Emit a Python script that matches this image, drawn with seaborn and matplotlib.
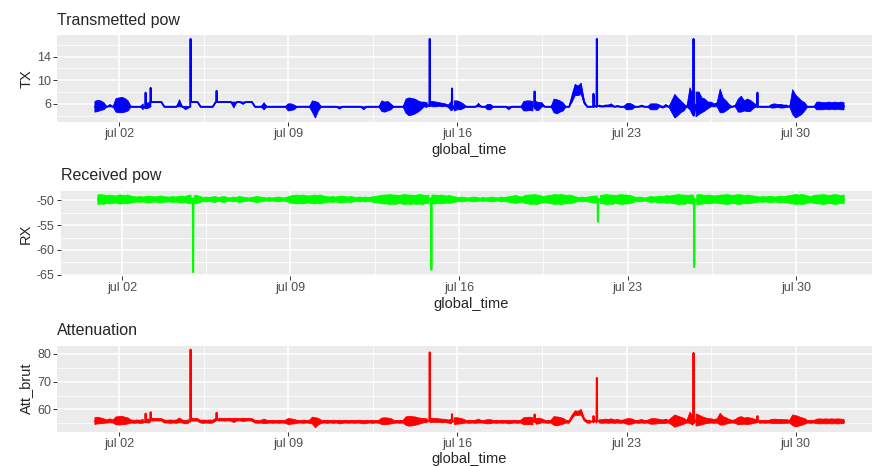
import pandas as pd
import matplotlib
matplotlib.use("Agg")
import matplotlib.pyplot as plt
import matplotlib.dates as mdates
from matplotlib.ticker import FuncFormatter
import seaborn as sns

# one stamp every 3 hours, 1 jul -> 1 aug ; for each stamp the lowest and
# highest reading seen in that slot (the raw signal is very dense)
global_time = pd.date_range("2019-07-01", periods=249, freq="3h")

tx_lo = [
    4.6, 4.7, 4.9, 5.0, 5.5, 5.5, 5.5, 4.6,   # jul 01
    4.5, 4.5, 4.6, 4.8, 5.5, 5.5, 5.5, 5.5,   # jul 02
    5.0, 5.2, 5.3, 6.3, 6.3, 6.3, 6.3, 5.5,   # jul 03
    5.5, 5.5, 5.5, 5.5, 5.5, 5.5, 5.0, 5.3,   # jul 04
    6.3, 6.3, 6.3, 5.5, 5.5, 5.5, 5.5, 5.5,   # jul 05
    6.3, 6.3, 6.3, 6.3, 6.3, 6.3, 5.3, 6.3,   # jul 06
    6.3, 5.9, 6.3, 6.3, 6.3, 5.5, 5.5, 5.5,   # jul 07
    5.0, 5.5, 5.5, 5.5, 5.5, 5.5, 5.5, 5.5,   # jul 08
    4.8, 4.9, 5.0, 5.5, 5.5, 5.5, 5.5, 5.5,   # jul 09
    4.6, 3.6, 4.8, 5.5, 5.5, 5.5, 5.5, 5.5,   # jul 10
    5.5, 5.1, 5.5, 5.5, 5.5, 5.5, 5.5, 5.5,   # jul 11
    5.5, 5.0, 5.5, 5.5, 5.5, 5.5, 5.5, 4.7,   # jul 12
    4.6, 4.8, 5.0, 5.5, 5.5, 5.5, 5.5, 4.4,   # jul 13
    4.0, 4.1, 4.3, 4.6, 5.0, 5.5, 5.4, 5.6,   # jul 14
    5.5, 5.5, 5.6, 5.5, 5.6, 5.4, 4.8, 4.8,   # jul 15
    5.0, 5.0, 5.2, 5.5, 5.5, 5.5, 5.5, 5.5,   # jul 16
    5.5, 5.5, 5.0, 5.0, 5.5, 5.5, 5.5, 5.5,   # jul 17
    5.5, 5.0, 5.5, 5.5, 5.5, 5.5, 4.8, 4.8,   # jul 18
    4.9, 4.8, 4.9, 4.9, 5.5, 5.5, 5.5, 5.5,   # jul 19
    4.5, 4.3, 4.6, 4.8, 5.5, 5.5, 6.3, 7.4,   # jul 20
    7.4, 7.6, 6.0, 5.5, 5.5, 5.5, 5.5, 5.5,   # jul 21
    5.5, 5.5, 5.5, 5.5, 5.5, 5.5, 5.5, 5.5,   # jul 22
    5.0, 5.0, 5.1, 5.5, 5.5, 5.5, 5.5, 5.5,   # jul 23
    5.0, 5.0, 5.0, 5.5, 5.3, 5.5, 5.5, 4.5,   # jul 24
    3.6, 4.0, 4.5, 4.8, 5.5, 5.0, 4.0, 3.8,   # jul 25
    4.2, 4.5, 4.8, 5.2, 5.5, 5.5, 5.5, 4.5,   # jul 26
    4.5, 4.8, 5.2, 5.5, 5.5, 4.6, 4.6, 4.8,   # jul 27
    4.7, 4.7, 5.2, 5.5, 5.5, 5.5, 5.5, 5.5,   # jul 28
    5.3, 5.3, 5.4, 5.3, 5.3, 5.4, 5.5, 4.2,   # jul 29
    3.6, 3.9, 4.2, 4.8, 5.5, 5.5, 5.5, 5.0,   # jul 30
    5.0, 5.0, 5.1, 5.0, 5.1, 5.0, 5.1, 5.0,   # jul 31
    5.0,
]
tx_hi = [
    6.4, 6.6, 6.5, 6.2, 5.5, 5.9, 5.5, 6.9,
    7.0, 7.1, 6.9, 6.5, 5.5, 5.5, 5.5, 5.5,
    6.0, 6.0, 6.3, 6.3, 6.3, 6.3, 6.3, 5.5,
    5.5, 5.5, 5.5, 5.5, 6.7, 5.5, 5.6, 5.5,
    6.3, 6.3, 6.3, 5.5, 5.5, 5.5, 5.5, 5.5,
    6.3, 6.3, 6.3, 6.3, 6.3, 6.3, 6.3, 6.3,
    6.3, 6.3, 6.3, 6.3, 6.3, 5.5, 5.5, 5.5,
    6.2, 5.5, 5.5, 5.5, 5.5, 5.5, 5.5, 5.5,
    6.0, 6.0, 5.8, 5.5, 5.5, 5.5, 5.5, 5.5,
    6.5, 6.4, 6.2, 5.5, 5.5, 5.5, 5.5, 5.5,
    5.5, 5.5, 5.5, 5.5, 5.5, 5.5, 5.5, 5.5,
    5.5, 5.5, 5.5, 5.5, 5.5, 5.5, 5.5, 6.5,
    6.3, 6.4, 6.0, 5.5, 5.5, 5.5, 5.5, 6.8,
    7.0, 6.9, 6.8, 6.5, 6.3, 6.3, 6.2, 6.4,
    6.4, 6.3, 6.2, 6.1, 6.0, 5.8, 6.4, 6.5,
    6.5, 6.3, 6.0, 5.5, 5.5, 5.5, 5.5, 6.1,
    5.5, 5.5, 5.9, 5.9, 5.5, 5.5, 5.5, 5.5,
    5.5, 5.5, 5.5, 5.5, 5.5, 5.5, 6.4, 6.5,
    6.5, 6.4, 6.4, 6.2, 6.2, 5.5, 5.5, 5.5,
    6.8, 6.7, 6.5, 6.2, 5.5, 5.5, 7.6, 9.3,
    9.0, 9.5, 6.5, 5.5, 5.5, 5.5, 5.8, 5.8,
    5.6, 5.8, 5.8, 6.0, 5.5, 5.7, 5.5, 5.5,
    6.0, 6.1, 5.9, 5.5, 5.5, 5.8, 5.5, 5.5,
    6.0, 6.0, 6.0, 5.8, 5.5, 5.9, 5.5, 6.5,
    7.6, 7.0, 6.5, 6.0, 5.5, 8.7, 7.5, 8.0,
    8.0, 7.0, 6.8, 6.3, 6.3, 6.0, 6.2, 8.5,
    7.0, 6.5, 5.9, 5.5, 5.8, 6.8, 7.3, 6.5,
    6.8, 6.6, 6.2, 5.8, 5.5, 5.5, 5.5, 5.5,
    5.9, 6.0, 5.9, 5.9, 5.8, 5.8, 5.5, 8.4,
    7.5, 7.0, 6.5, 6.2, 5.5, 5.5, 5.5, 6.3,
    6.3, 6.2, 6.2, 6.3, 6.2, 6.3, 6.2, 6.3,
    6.2,
]
# short spikes, read between the 3 h stamps
tx_spike_time = [
    "2019-07-03 02:00", "2019-07-03 02:20", "2019-07-03 02:40",
    "2019-07-03 07:00", "2019-07-03 07:20", "2019-07-03 07:40",
    "2019-07-04 22:40", "2019-07-04 23:00", "2019-07-04 23:20",
    "2019-07-06 00:30", "2019-07-06 00:50", "2019-07-06 01:10",
    "2019-07-14 20:10", "2019-07-14 20:30", "2019-07-14 20:50",
    "2019-07-15 18:20", "2019-07-15 18:40", "2019-07-15 19:00",
    "2019-07-19 04:20", "2019-07-19 04:40", "2019-07-19 05:00",
    "2019-07-21 14:50", "2019-07-21 15:10", "2019-07-21 15:30",
    "2019-07-21 18:10", "2019-07-21 18:30", "2019-07-21 18:50",
    "2019-07-25 18:10", "2019-07-25 18:30", "2019-07-25 18:50",
    "2019-07-28 09:40", "2019-07-28 10:00", "2019-07-28 10:20",
]
tx_spike = [
    5.3, 7.9, 5.3,
    5.5, 8.7, 6.3,
    5.5, 17.0, 6.3,
    6.3, 8.2, 6.3,
    5.6, 17.0, 6.3,
    5.5, 8.6, 5.0,
    5.5, 8.1, 5.2,
    5.5, 7.7, 5.5,
    5.5, 17.0, 5.6,
    5.5, 17.0, 4.0,
    5.5, 7.9, 5.5,
]

rx_lo = [
    -50.8, -50.7, -50.8, -50.6, -50.7, -50.6, -50.5, -50.7,
    -50.7, -50.6, -50.7, -50.5, -50.4, -50.3, -50.4, -50.3,
    -50.4, -50.5, -50.4, -50.3, -50.4, -50.5, -50.4, -50.3,
    -50.3, -50.4, -50.3, -50.4, -50.5, -50.4, -50.6, -50.7,
    -50.6, -50.6, -50.4, -50.2, -50.3, -50.2, -50.3, -50.4,
    -50.2, -50.3, -50.4, -50.2, -50.1, -50.3, -50.2, -50.4,
    -50.3, -50.2, -50.1, -50.2, -50.3, -50.4, -50.3, -50.2,
    -50.1, -50.2, -50.1, -50.2, -50.3, -50.2, -50.1, -50.3,
    -50.5, -50.6, -50.7, -50.6, -50.7, -50.6, -50.5, -50.6,
    -50.7, -50.6, -50.7, -50.5, -50.4, -50.3, -50.4, -50.3,
    -50.4, -50.5, -50.4, -50.3, -50.4, -50.3, -50.2, -50.3,
    -50.2, -50.3, -50.2, -50.3, -50.4, -50.5, -50.6, -50.7,
    -50.7, -50.8, -50.7, -50.8, -50.6, -50.7, -50.8, -50.7,
    -50.8, -50.7, -50.8, -50.7, -50.8, -50.6, -50.7, -50.7,
    -50.7, -50.6, -50.7, -50.6, -50.5, -50.6, -50.4, -50.3,
    -50.2, -50.3, -50.2, -50.1, -50.2, -50.3, -50.2, -50.1,
    -50.2, -50.1, -50.2, -50.3, -50.2, -50.1, -50.3, -50.2,
    -50.3, -50.4, -50.5, -50.6, -50.4, -50.3, -50.6, -50.7,
    -50.8, -50.7, -50.8, -50.6, -50.4, -50.5, -50.6, -50.7,
    -50.8, -50.7, -50.8, -50.7, -50.6, -50.7, -50.5, -50.3,
    -50.2, -50.3, -50.2, -50.3, -50.4, -50.5, -50.5, -50.6,
    -50.7, -50.8, -50.7, -50.8, -50.6, -50.7, -50.8, -50.7,
    -50.7, -50.6, -50.4, -50.2, -50.3, -50.2, -50.1, -50.3,
    -50.4, -50.3, -50.4, -50.5, -50.4, -50.6, -50.5, -50.6,
    -50.7, -50.8, -50.7, -50.8, -50.6, -50.7, -50.7, -50.8,
    -50.8, -50.7, -50.6, -50.7, -50.6, -50.5, -50.6, -50.7,
    -50.7, -50.8, -50.7, -50.6, -50.7, -50.8, -50.7, -50.6,
    -50.7, -50.6, -50.5, -50.4, -50.3, -50.4, -50.3, -50.4,
    -50.4, -50.3, -50.4, -50.5, -50.4, -50.5, -50.6, -50.7,
    -50.8, -50.7, -50.8, -50.7, -50.5, -50.4, -50.6, -50.7,
    -50.7, -50.8, -50.7, -50.6, -50.7, -50.8, -50.7, -50.6,
    -50.7,
]
rx_hi = [
    -48.9, -48.8, -48.9, -49.0, -48.9, -49.0, -49.1, -48.9,
    -48.9, -49.0, -48.9, -49.1, -49.2, -49.3, -49.2, -49.3,
    -49.2, -49.1, -49.2, -49.3, -49.2, -49.1, -49.2, -49.3,
    -49.3, -49.2, -49.3, -49.2, -49.1, -49.2, -49.0, -48.9,
    -49.0, -49.0, -49.2, -49.4, -49.3, -49.4, -49.3, -49.2,
    -49.4, -49.3, -49.2, -49.4, -49.5, -49.3, -49.4, -49.2,
    -49.3, -49.4, -49.5, -49.4, -49.3, -49.2, -49.3, -49.4,
    -49.5, -49.4, -49.5, -49.4, -49.3, -49.4, -49.5, -49.3,
    -49.1, -49.0, -48.9, -49.0, -48.9, -49.0, -49.1, -49.0,
    -48.9, -49.0, -48.9, -49.1, -49.2, -49.3, -49.2, -49.3,
    -49.2, -49.1, -49.2, -49.3, -49.2, -49.3, -49.4, -49.3,
    -49.4, -49.3, -49.4, -49.3, -49.2, -49.1, -49.0, -48.9,
    -48.9, -48.8, -48.9, -48.9, -49.0, -48.9, -48.8, -48.9,
    -48.9, -49.0, -48.9, -48.8, -48.9, -49.0, -48.9, -48.9,
    -48.9, -49.0, -48.9, -49.0, -49.1, -49.0, -49.2, -49.3,
    -49.4, -49.3, -49.4, -49.5, -49.4, -49.3, -49.4, -49.5,
    -49.4, -49.5, -49.4, -49.3, -49.4, -49.5, -49.3, -49.4,
    -49.3, -49.2, -49.1, -49.0, -49.2, -49.3, -49.0, -48.9,
    -48.9, -48.8, -48.9, -49.0, -49.2, -49.1, -49.0, -48.9,
    -48.8, -48.9, -48.8, -48.9, -49.0, -48.9, -49.1, -49.3,
    -49.4, -49.3, -49.4, -49.3, -49.2, -49.1, -49.1, -49.0,
    -48.9, -48.8, -48.9, -48.9, -49.0, -48.9, -48.8, -48.9,
    -48.9, -49.0, -49.2, -49.4, -49.3, -49.4, -49.5, -49.3,
    -49.2, -49.3, -49.2, -49.1, -49.2, -49.0, -49.1, -49.0,
    -48.9, -48.8, -48.9, -48.9, -49.0, -48.9, -48.9, -48.9,
    -48.8, -48.9, -49.0, -48.9, -49.0, -49.1, -49.0, -48.9,
    -48.9, -48.8, -48.9, -49.0, -48.9, -48.8, -48.9, -49.0,
    -48.9, -49.0, -49.1, -49.2, -49.3, -49.2, -49.3, -49.2,
    -49.2, -49.3, -49.2, -49.1, -49.2, -49.1, -49.0, -48.9,
    -48.8, -48.9, -48.8, -48.9, -49.1, -49.2, -49.0, -48.9,
    -48.9, -48.8, -48.9, -49.0, -48.9, -48.8, -48.9, -49.0,
    -48.9,
]
rx_spike_time = [
    "2019-07-04 22:40", "2019-07-04 23:00", "2019-07-04 23:20",
    "2019-07-14 20:10", "2019-07-14 20:30", "2019-07-14 20:50",
    "2019-07-21 18:10", "2019-07-21 18:30", "2019-07-21 18:50",
    "2019-07-25 18:10", "2019-07-25 18:30", "2019-07-25 18:50",
]
rx_spike = [
    -49.6, -64.5, -49.8,
    -49.5, -64.0, -49.7,
    -49.6, -54.3, -49.8,
    -49.5, -63.5, -49.9,
]

att_lo = [
    54.6, 54.8, 54.9, 55.0, 55.1, 55.2, 55.1, 54.5,
    54.4, 54.5, 54.6, 54.8, 55.1, 55.0, 55.1, 55.0,
    55.0, 55.2, 55.1, 55.8, 55.9, 55.8, 55.9, 55.1,
    55.1, 55.0, 55.1, 55.0, 55.2, 55.1, 54.8, 55.0,
    55.8, 55.8, 55.8, 55.1, 55.0, 55.1, 55.0, 55.1,
    55.8, 55.8, 55.9, 55.8, 55.9, 55.8, 55.3, 55.8,
    55.9, 55.7, 55.8, 55.9, 55.8, 55.1, 55.0, 55.1,
    54.9, 55.0, 55.1, 55.0, 55.1, 55.0, 55.1, 55.0,
    54.6, 54.7, 54.8, 55.0, 55.1, 55.0, 55.1, 55.0,
    54.8, 53.4, 54.4, 55.0, 55.1, 55.0, 55.1, 55.0,
    55.1, 54.8, 55.0, 55.1, 55.0, 55.1, 55.0, 55.1,
    55.0, 54.8, 55.0, 55.1, 55.0, 55.1, 55.0, 54.6,
    54.5, 54.6, 54.8, 55.0, 55.1, 55.0, 55.1, 54.3,
    54.0, 54.1, 54.3, 54.6, 54.9, 55.2, 55.2, 55.2,
    55.4, 55.3, 55.4, 55.2, 55.3, 55.1, 54.8, 54.6,
    54.7, 54.8, 55.0, 55.1, 55.0, 55.1, 55.0, 55.1,
    55.1, 55.0, 54.8, 54.9, 55.1, 55.0, 55.1, 55.0,
    55.1, 54.8, 55.0, 55.1, 55.0, 55.1, 54.5, 54.6,
    54.6, 54.5, 54.7, 54.8, 55.2, 55.1, 55.0, 55.1,
    54.3, 54.1, 54.4, 54.7, 55.1, 55.0, 56.8, 57.9,
    57.8, 58.0, 55.9, 55.1, 55.0, 55.2, 55.1, 55.1,
    55.0, 55.1, 55.0, 55.1, 55.0, 55.1, 55.0, 55.1,
    54.7, 54.6, 54.8, 55.1, 55.0, 55.1, 55.0, 55.1,
    54.7, 54.7, 54.8, 55.0, 54.9, 55.0, 55.1, 54.4,
    53.6, 54.0, 54.3, 54.7, 55.1, 55.0, 54.3, 54.0,
    54.2, 54.5, 54.8, 55.0, 55.1, 55.0, 55.1, 54.4,
    54.4, 54.7, 55.0, 55.1, 55.0, 54.5, 54.6, 54.7,
    54.6, 54.7, 55.0, 55.1, 55.0, 55.1, 55.0, 55.1,
    55.0, 54.9, 55.0, 54.9, 55.0, 55.0, 55.1, 54.2,
    53.7, 54.0, 54.3, 54.7, 55.1, 55.0, 55.1, 54.9,
    54.8, 54.9, 54.8, 54.9, 54.8, 54.9, 54.8, 54.9,
    54.9,
]
att_hi = [
    57.0, 57.2, 56.9, 56.6, 56.2, 56.6, 56.2, 57.3,
    57.4, 57.5, 57.2, 56.9, 56.2, 56.1, 56.2, 56.1,
    56.4, 56.4, 56.6, 56.8, 56.7, 56.8, 56.7, 56.2,
    56.1, 56.2, 56.1, 56.2, 56.9, 56.2, 56.0, 56.3,
    56.8, 56.8, 56.7, 56.1, 56.2, 56.1, 56.2, 56.1,
    56.8, 56.8, 56.7, 56.8, 56.7, 56.8, 56.7, 56.8,
    56.7, 56.8, 56.7, 56.8, 56.7, 56.1, 56.0, 56.1,
    56.5, 56.1, 56.0, 56.1, 56.0, 56.1, 56.0, 56.1,
    56.7, 56.6, 56.4, 56.1, 56.0, 56.1, 56.0, 56.1,
    57.2, 57.0, 56.8, 56.1, 56.0, 56.1, 56.0, 56.1,
    56.0, 56.1, 56.0, 56.1, 56.0, 56.1, 56.0, 56.1,
    56.1, 56.0, 56.1, 56.0, 56.1, 56.0, 56.1, 56.9,
    57.0, 56.9, 56.7, 56.1, 56.0, 56.1, 56.0, 57.3,
    57.5, 57.4, 57.3, 57.0, 56.8, 56.7, 56.6, 56.8,
    56.8, 56.7, 56.6, 56.5, 56.4, 56.2, 56.4, 57.0,
    57.0, 56.8, 56.5, 56.0, 56.1, 56.0, 56.1, 56.5,
    56.0, 56.1, 56.3, 56.3, 56.0, 56.1, 56.0, 56.1,
    56.0, 56.1, 56.0, 56.1, 56.0, 56.1, 57.0, 57.1,
    57.2, 57.0, 56.7, 56.8, 56.6, 56.1, 56.0, 56.1,
    57.4, 57.3, 57.1, 56.8, 56.1, 56.0, 58.0, 59.5,
    59.3, 60.0, 56.8, 56.0, 56.1, 56.2, 56.3, 56.3,
    56.3, 56.5, 56.4, 56.6, 56.2, 56.4, 56.1, 56.2,
    56.6, 56.7, 56.5, 56.0, 56.1, 56.4, 56.0, 56.1,
    56.6, 56.7, 56.6, 56.4, 56.2, 56.5, 56.1, 57.1,
    58.0, 57.6, 57.2, 56.8, 56.1, 59.0, 57.5, 58.3,
    58.0, 57.4, 57.0, 56.7, 56.6, 56.4, 56.6, 58.6,
    57.4, 57.0, 56.4, 56.1, 56.3, 57.1, 57.4, 56.9,
    57.1, 56.9, 56.6, 56.3, 56.1, 56.0, 56.1, 56.0,
    56.4, 56.5, 56.4, 56.4, 56.3, 56.3, 56.1, 58.0,
    57.8, 57.4, 57.0, 56.7, 56.0, 56.1, 56.0, 56.5,
    56.6, 56.5, 56.6, 56.5, 56.6, 56.5, 56.6, 56.5,
    56.4,
]
att_spike_time = tx_spike_time
att_spike = [
    55.4, 58.5, 55.6,
    55.6, 59.0, 56.2,
    55.6, 81.5, 56.2,
    56.2, 58.8, 56.3,
    55.8, 80.5, 56.3,
    55.8, 58.3, 55.5,
    55.6, 58.2, 55.5,
    55.6, 57.6, 55.6,
    55.6, 71.3, 55.8,
    55.5, 80.3, 55.0,
    55.5, 57.6, 55.5,
]

titles = ["Transmetted pow", "Received pow", "Attenuation"]
ylabels = ["TX", "RX", "Att_brut"]
colors = ["blue", "#00FF00", "red"]
lows = [tx_lo, rx_lo, att_lo]
highs = [tx_hi, rx_hi, att_hi]
spike_times = [tx_spike_time, rx_spike_time, att_spike_time]
spikes = [tx_spike, rx_spike, att_spike]
yticks_major = [[6, 10, 14], [-65, -60, -55, -50], [60, 70, 80]]
yticks_minor = [[4, 8, 12, 16], [-62.5, -57.5, -52.5], [55, 65, 75]]

major_x = pd.to_datetime(["2019-07-02", "2019-07-09", "2019-07-16",
                          "2019-07-23", "2019-07-30"])
minor_x = pd.to_datetime(["2019-07-05 12:00", "2019-07-12 12:00",
                          "2019-07-19 12:00", "2019-07-26 12:00"])

sns.set_theme(style="darkgrid", rc={
    "axes.facecolor": "#EBEBEB",
    "grid.color": "white",
    "axes.axisbelow": True,
    "axes.unicode_minus": False,
})
plt.rcParams["font.family"] = ["Liberation Sans", "DejaVu Sans"]

fig = plt.figure(figsize=(8.72, 4.67), dpi=100)
positions = [
    [0.0659, 0.7388, 0.9450, 0.1863],
    [0.0694, 0.4090, 0.9415, 0.1827],
    [0.0659, 0.0756, 0.9450, 0.1842],
]

fmt = FuncFormatter(lambda v, p: mdates.num2date(v).strftime("%b %d").lower())

for i in range(3):
    ax = fig.add_axes(positions[i])
    col = ylabels[i]
    df = pd.concat([
        pd.DataFrame({"global_time": global_time, col: lows[i]}),
        pd.DataFrame({"global_time": global_time, col: highs[i]}),
        pd.DataFrame({"global_time": pd.to_datetime(spike_times[i]), col: spikes[i]}),
    ], ignore_index=True)
    # min..max of each slot as a solid band, line through the middle
    sns.lineplot(data=df, x="global_time", y=col, color=colors[i],
                 lw=1.4, errorbar=("pi", 100),
                 err_kws={"alpha": 1, "lw": 0.6, "edgecolor": colors[i]},
                 ax=ax)

    ax.set_title(titles[i], loc="left", fontsize=11.5, pad=7.5)
    ax.set_xlabel("global_time", fontsize=10.5, labelpad=2)
    ax.set_ylabel(col, fontsize=10.5, labelpad=3)

    ax.set_xticks(mdates.date2num(major_x))
    ax.xaxis.set_major_formatter(fmt)
    ax.set_xticks(mdates.date2num(minor_x), minor=True)
    ax.set_yticks(yticks_major[i])
    ax.set_yticks(yticks_minor[i], minor=True)

    ax.grid(which="major", color="white", lw=1.1)
    ax.grid(which="minor", color="white", lw=0.55)
    ax.tick_params(which="major", bottom=True, left=True, length=2.75,
                   width=0.7, color="#333333", labelsize=9,
                   labelcolor="#4D4D4D", pad=1.5)
    ax.tick_params(which="minor", length=0)
    for s in ax.spines.values():
        s.set_visible(False)

fig.savefig("out.png", dpi=100)
